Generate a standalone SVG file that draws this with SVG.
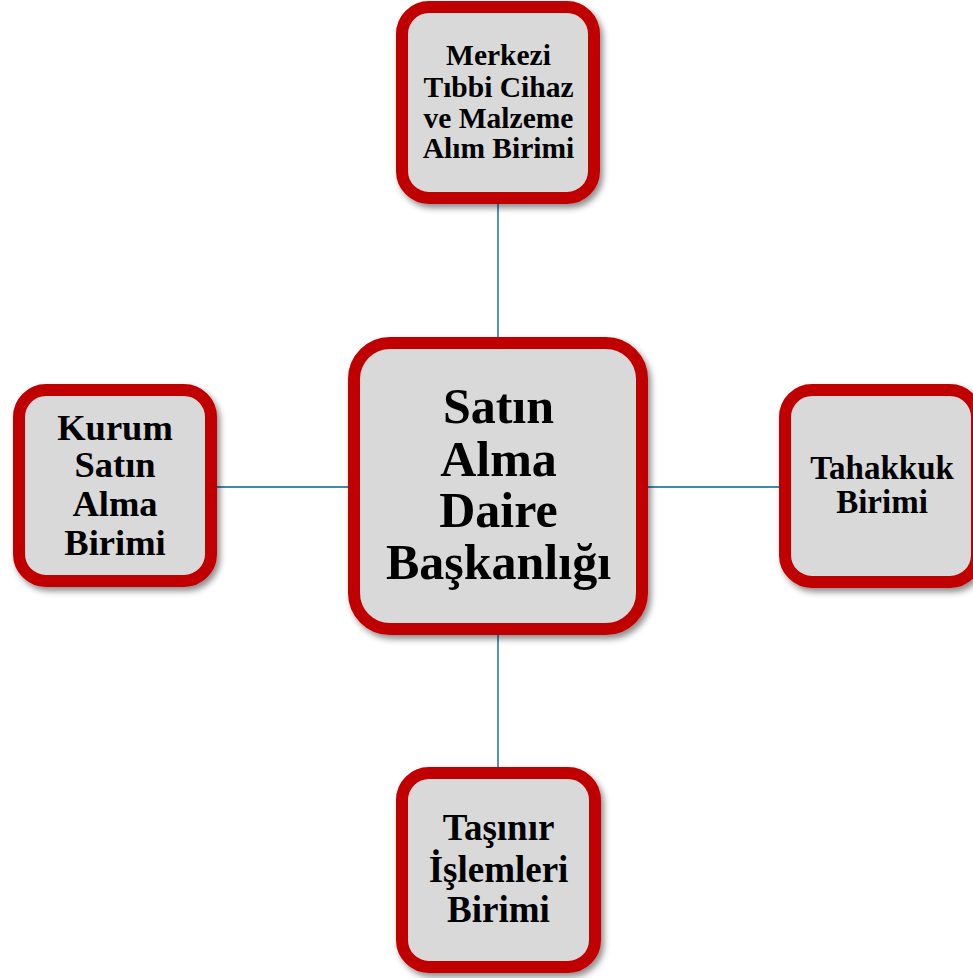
<svg xmlns="http://www.w3.org/2000/svg" width="973" height="978" viewBox="0 0 973 978">
<defs>
<filter id="sh" x="-20%" y="-20%" width="140%" height="140%">
<feDropShadow dx="3" dy="4" stdDeviation="3" flood-color="#000" flood-opacity="0.45"/>
</filter>
<style>
.box{fill:#D9D9D9;stroke:#C00000;stroke-width:12;filter:url(#sh)}
.con{stroke:#3F8AAE;stroke-width:1.8;fill:none}
text{font-family:"Liberation Serif","Times New Roman",serif;font-weight:bold;fill:#000;text-anchor:middle}
</style>
</defs>
<rect width="973" height="978" fill="#fff"/>
<g id="connectors">
<line class="con" x1="498" y1="204" x2="498" y2="343"/>
<line class="con" x1="498" y1="629" x2="498" y2="767"/>
<line class="con" x1="217" y1="487" x2="354" y2="487"/>
<line class="con" x1="642" y1="487" x2="779" y2="487"/>
</g>
<g id="node-top">
<rect class="box" x="402" y="7" width="192" height="191" rx="27"/>
<text font-size="29.5" x="498.5"><tspan x="498.5" y="65">Merkezi</tspan><tspan x="498.5" y="97">Tıbbi Cihaz</tspan><tspan x="498.5" y="128">ve Malzeme</tspan><tspan x="498.5" y="158">Alım Birimi</tspan></text>
</g>
<g id="node-center">
<rect class="box" x="354" y="343" width="288" height="286" rx="36"/>
<text font-size="50" x="498.5"><tspan x="498.5" y="423">Satın</tspan><tspan x="498.5" y="476">Alma</tspan><tspan x="498.5" y="527">Daire</tspan><tspan x="498.5" y="579">Başkanlığı</tspan></text>
</g>
<g id="node-left">
<rect class="box" x="19" y="390" width="192" height="191" rx="27"/>
<text font-size="36.5" x="115"><tspan x="115" y="440">Kurum</tspan><tspan x="115" y="477">Satın</tspan><tspan x="115" y="516">Alma</tspan><tspan x="115" y="555">Birimi</tspan></text>
</g>
<g id="node-right">
<rect class="box" x="785" y="390" width="192" height="192" rx="27"/>
<text font-size="33" x="882"><tspan x="882" y="479">Tahakkuk</tspan><tspan x="882" y="513">Birimi</tspan></text>
</g>
<g id="node-bottom">
<rect class="box" x="402" y="773" width="193" height="194" rx="27"/>
<text font-size="37" x="498.5"><tspan x="498.5" y="840">Taşınır</tspan><tspan x="498.5" y="882">İşlemleri</tspan><tspan x="498.5" y="922">Birimi</tspan></text>
</g>
</svg>
